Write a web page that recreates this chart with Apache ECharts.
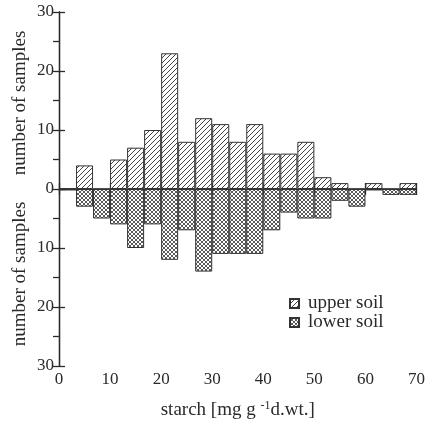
<!DOCTYPE html>
<html><head><meta charset="utf-8">
<script src="https://cdn.jsdelivr.net/npm/echarts@6/dist/echarts.min.js"></script>
<style>html,body{margin:0;padding:0;background:#fff}#c{width:428px;height:425px}</style>
</head><body><div id="c"></div>
<script>
// bins of width 10/3 mg g-1 d.wt., labelled by lower edge
const binLabels = ['0','3.3','6.7','10','13.3','16.7','20','23.3','26.7','30','33.3','36.7','40','43.3','46.7','50','53.3','56.7','60','63.3','66.7'];
const upperSoil = [0,4,0,5,7,10,23,8,12,11,8,11,6,6,8,2,1,0,1,0,1];
const lowerSoil = [0,3,5,6,10,6,12,7,14,11,11,11,7,4,5,5,2,3,0,1,1];
const yTicks = [-30,-20,-10,0,10,20,30];
const seriesNames = ['upper soil','lower soil'];

const FONT = '"Liberation Serif","DejaVu Serif",serif';
const INK = '#2a2a2a';

function pattern(cross){
  const s = cross ? 4 : 5;
  const c = document.createElement('canvas');
  c.width = s; c.height = s;
  const g = c.getContext('2d');
  g.fillStyle = '#fff'; g.fillRect(0,0,s,s);
  g.strokeStyle = cross ? '#5a5a5a' : '#444'; g.lineWidth = 1;
  g.beginPath();
  g.moveTo(0,s); g.lineTo(s,0);
  g.moveTo(-1,1); g.lineTo(1,-1);
  g.moveTo(s-1,s+1); g.lineTo(s+1,s-1);
  if(cross){
    g.moveTo(0,0); g.lineTo(s,s);
    g.moveTo(-1,s-1); g.lineTo(1,s+1);
    g.moveTo(s-1,-1); g.lineTo(s+1,1);
  }
  g.stroke();
  return {image: c, repeat: 'repeat'};
}

const chart = echarts.init(document.getElementById('c'), null, {renderer:'canvas'});
const axisLineStyle = {color: INK, width: 1.3};
chart.setOption({
  animation: false,
  backgroundColor: '#fff',
  grid: {left: 59, right: 9, top: 12, bottom: 55, containLabel: false},
  legend: {
    left: 284, top: 289, orient: 'vertical', itemGap: 0,
    itemWidth: 9, itemHeight: 9,
    textStyle: {fontFamily: FONT, fontSize: 19, color: INK, padding:[0,0,0,4]},
    data: seriesNames.map(n => ({name: n, icon: 'rect'}))
  },
  xAxis: [
    {type:'value', min:0, max:70, interval:10, position:'bottom',
     axisLine:{show:true, lineStyle:axisLineStyle},
     axisTick:{show:true, inside:true, length:6, lineStyle:axisLineStyle},
     axisLabel:{fontFamily:FONT, fontSize:17, color:INK, margin:5},
     splitLine:{show:false},
     name:'starch [mg g {sup|-1}d.wt.]', nameLocation:'middle', nameGap:34,
     nameTextStyle:{fontFamily:FONT, fontSize:19, color:INK,
       rich:{sup:{fontFamily:FONT, fontSize:12, color:INK, padding:[0,0,9,0]}}}
    },
    {type:'value', min:0, max:70, interval:10, position:'top',
     axisLine:{show:true, lineStyle:axisLineStyle},
     axisTick:{show:true, inside:true, length:6, lineStyle:axisLineStyle},
     axisLabel:{show:false}, splitLine:{show:false}},
    {type:'category', data: binLabels, show:false, boundaryGap:true}
  ],
  yAxis: [
    {type:'value', min:-30, max:30, interval:10, position:'left',
     axisLine:{show:true, lineStyle:axisLineStyle},
     axisTick:{show:true, inside:true, length:6, lineStyle:axisLineStyle},
     axisLabel:{fontFamily:FONT, fontSize:17, color:INK, margin:5,
       formatter: v => yTicks.indexOf(v) >= 0 ? String(Math.abs(v)) : ''},
     splitLine:{show:false}},
    {type:'value', min:-30, max:30, interval:5, position:'right',
     axisLine:{show:true, lineStyle:axisLineStyle},
     axisTick:{show:true, inside:true, length:6, lineStyle:axisLineStyle},
     axisLabel:{show:false}, splitLine:{show:false}}
  ],
  graphic: [
    {type:'text', x:20, y:103, rotation:Math.PI/2,
     style:{text:'number of samples', font:'19px '+FONT, fill:INK, align:'center', verticalAlign:'middle'}},
    {type:'text', x:20, y:274, rotation:Math.PI/2,
     style:{text:'number of samples', font:'19px '+FONT, fill:INK, align:'center', verticalAlign:'middle'}}
  ],
  series: [
    {name: seriesNames[0], type:'bar', xAxisIndex:2, yAxisIndex:0,
     data: upperSoil, barGap:'-100%', barCategoryGap:'0%',
     itemStyle:{color: pattern(false), borderColor:'#333', borderWidth:1},
     markLine:{silent:true, symbol:'none', label:{show:false},
       lineStyle:{color:'#333', type:'solid', width:1}, data:[{yAxis:0}]}},
    {name: seriesNames[1], type:'bar', xAxisIndex:2, yAxisIndex:0,
     data: lowerSoil.map(v => -v), barGap:'-100%', barCategoryGap:'0%',
     itemStyle:{color: pattern(true), borderColor:'#333', borderWidth:1}}
  ]
});
</script></body></html>
